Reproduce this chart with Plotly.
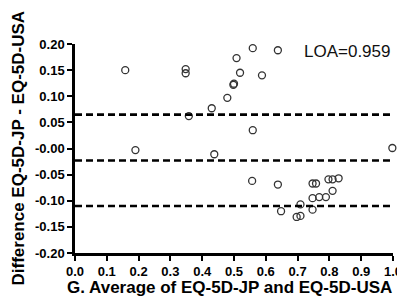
import plotly.graph_objects as go

avg = [0.158, 0.19, 0.348, 0.348, 0.358, 0.43, 0.438, 0.479, 0.498, 0.500, 0.508, 0.519,
       0.559, 0.559, 0.588, 0.638, 0.998,
       0.557, 0.638, 0.648, 0.697, 0.709, 0.709, 0.747, 0.747, 0.747, 0.758, 0.768,
       0.789, 0.797, 0.81, 0.81, 0.829]
diff = [0.150, -0.003, 0.152, 0.144, 0.062, 0.077, -0.011, 0.097, 0.122, 0.124, 0.173, 0.145,
        0.192, 0.035, 0.140, 0.188, 0.001,
        -0.062, -0.069, -0.120, -0.131, -0.129, -0.107, -0.117, -0.095, -0.067, -0.067, -0.093,
        -0.093, -0.059, -0.059, -0.081, -0.057]
limit_lines = [0.065, -0.023, -0.110]
loa_text = "LOA=0.959"

x_ticks = [0.0, 0.1, 0.2, 0.3, 0.4, 0.5, 0.6, 0.7, 0.8, 0.9, 1.0]
x_ticktext = ["0.0", "0.1", "0.2", "0.3", "0.4", "0.5", "0.6", "0.7", "0.8", "0.9", "1.0"]
y_ticks = [0.20, 0.15, 0.10, 0.05, 0.0, -0.05, -0.10, -0.15, -0.20]
y_ticktext = ["0.20", "0.15", "0.10", "0.05", "-0.00", "-0.05", "-0.10", "-0.15", "-0.20"]
x_title = "G. Average of EQ-5D-JP and EQ-5D-USA"
y_title = "Difference EQ-5D-JP - EQ-5D-USA"

FONT = "Arial, Liberation Sans, sans-serif"

fig = go.Figure()
fig.add_trace(go.Scatter(
    x=avg, y=diff, mode="markers",
    marker=dict(symbol="circle-open", size=7, color="#333333", line=dict(width=1.3)),
    cliponaxis=False, showlegend=False,
))

for yv in limit_lines:
    fig.add_shape(type="line", xref="x", yref="y", x0=0, x1=1.0, y0=yv, y1=yv,
                  line=dict(color="black", width=2.7, dash="7px,4px"))

fig.add_annotation(x=1.0, y=0.185, xref="x", yref="y", text=loa_text, showarrow=False,
                   xanchor="right", yanchor="middle",
                   font=dict(family=FONT, size=17, color="#111111"))

fig.add_annotation(x=0.5, y=0, xref="paper", yref="paper", text="<b>" + x_title + "</b>",
                   showarrow=False, xanchor="center", yanchor="middle", xshift=-5, yshift=-34,
                   font=dict(family=FONT, size=17, color="black"))
fig.add_annotation(x=0, y=0.5, xref="paper", yref="paper", text="<b>" + y_title + "</b>",
                   showarrow=False, xanchor="center", yanchor="middle", xshift=-57, textangle=-90,
                   font=dict(family=FONT, size=17, color="black"))

fig.update_xaxes(range=[0, 1.0], tickvals=x_ticks, ticktext=["<b>%s</b>" % t for t in x_ticktext],
                 showgrid=False, zeroline=False, showline=True, linecolor="black", linewidth=2.5,
                 ticks="outside", ticklen=5, tickwidth=2, tickcolor="black", automargin=False,
                 tickfont=dict(family=FONT, size=13, color="black"))
fig.update_yaxes(range=[-0.20, 0.20], tickvals=y_ticks, ticktext=["<b>%s</b>" % t for t in y_ticktext],
                 showgrid=False, zeroline=False, showline=True, linecolor="black", linewidth=2.5,
                 ticks="outside", ticklen=5, tickwidth=2, tickcolor="black", automargin=False,
                 tickfont=dict(family=FONT, size=13, color="black"))

# page body adds an 8px offset; figure size/margins compensate
fig.update_layout(width=397, height=300, margin=dict(l=67, r=12, t=36, b=55, pad=0),
                  plot_bgcolor="white", paper_bgcolor="white")

fig.write_html("out.html")
